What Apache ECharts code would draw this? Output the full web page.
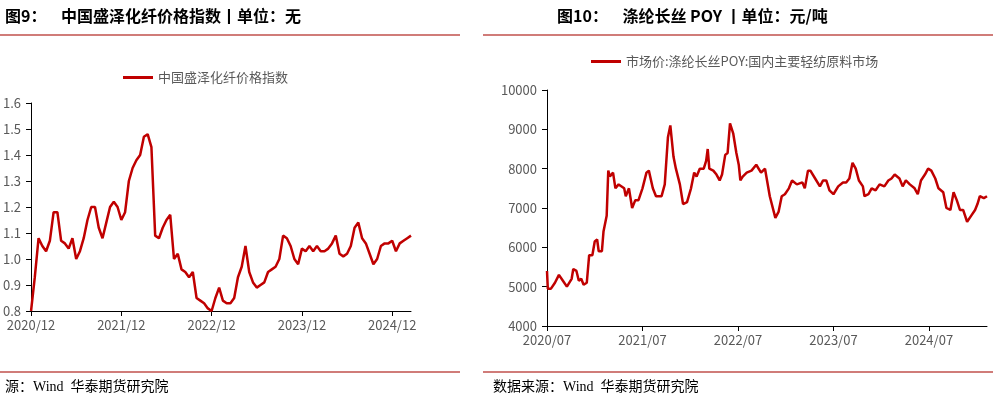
<!DOCTYPE html>
<html><head><meta charset="utf-8">
<script src="https://cdn.jsdelivr.net/npm/echarts@6/dist/echarts.min.js"></script>
<style>html,body{margin:0;padding:0;background:#fff}#c{width:998px;height:401px}</style>
</head><body><div id="c"></div>
<script>
// Left: 中国盛泽化纤价格指数, half-month steps from 2020/12
const leftStart = [2020, 12];
const leftValues = [0.80,0.93,1.08,1.05,1.03,1.07,1.18,1.18,1.07,1.06,1.04,1.08,1.00,1.03,1.08,1.15,1.20,1.20,1.12,1.08,1.14,1.20,1.22,1.20,1.15,1.18,1.30,1.35,1.38,1.40,1.47,1.48,1.43,1.09,1.08,1.12,1.15,1.17,1.00,1.02,0.96,0.95,0.93,0.95,0.85,0.84,0.83,0.81,0.80,0.85,0.89,0.84,0.83,0.83,0.85,0.93,0.97,1.05,0.95,0.91,0.89,0.90,0.91,0.95,0.96,0.97,1.00,1.09,1.08,1.05,1.00,0.98,1.04,1.03,1.05,1.03,1.05,1.03,1.03,1.04,1.06,1.09,1.02,1.01,1.02,1.05,1.12,1.14,1.08,1.06,1.02,0.98,1.00,1.05,1.06,1.06,1.07,1.03,1.06,1.07,1.08,1.09];
const leftTicks = [0.8,0.9,1.0,1.1,1.2,1.3,1.4,1.5,1.6];
// Right: 涤纶长丝POY, month offsets from 2020/07
const rightStart = [2020, 7];
const rightMonths = [0,0.1,0.5,1,1.5,2,2.5,2.75,3.1,3.3,3.7,4.0,4.3,4.6,5.0,5.3,5.7,6.0,6.3,6.5,6.9,7.1,7.5,7.7,7.9,8.3,8.6,9.0,9.7,9.9,10.3,10.7,11.1,11.5,12.0,12.5,12.8,13.3,13.7,14.4,14.8,15.2,15.5,15.9,16.2,16.7,17.1,17.6,18.1,18.5,18.8,19.2,19.7,20.0,20.2,20.4,20.9,21.3,21.7,22.0,22.4,22.7,23.0,23.4,23.8,24.1,24.3,24.6,25.1,25.7,26.3,26.9,27.4,28.0,28.7,29.1,29.5,29.9,30.4,30.8,31.4,32.1,32.4,32.8,33.1,33.7,34.3,34.7,35.1,35.5,36.0,36.6,37.2,37.6,38.0,38.4,38.8,39.2,39.7,39.9,40.4,40.8,41.3,41.8,42.4,42.9,43.3,43.7,44.3,44.7,45.1,45.6,46.2,46.6,47.0,47.5,47.9,48.3,48.8,49.2,49.8,50.2,50.7,51.1,51.5,51.9,52.3,52.8,53.3,53.8,54.1,54.4,54.9,55.3];
const rightValues = [5400,4950,4950,5100,5300,5150,5000,4950,5200,5450,5400,5150,5200,5050,5100,5800,5800,6150,6200,5900,5900,6400,6800,7950,7800,7900,7500,7600,7500,7300,7500,7000,7200,7200,7500,7900,7950,7500,7300,7300,7600,8800,9100,8300,8000,7600,7100,7150,7500,7900,7800,8000,8000,8200,8500,8000,7950,7850,7700,7850,8350,8400,9150,8900,8400,8100,7700,7800,7900,7950,8100,7900,8000,7300,6750,6900,7300,7350,7500,7700,7600,7650,7500,7950,7950,7750,7550,7700,7700,7450,7350,7550,7650,7650,7750,8150,8000,7700,7550,7300,7350,7500,7450,7600,7550,7700,7750,7850,7750,7550,7700,7600,7500,7350,7700,7850,8000,7950,7750,7500,7400,7000,6950,7400,7200,6950,6950,6650,6800,6950,7100,7300,7250,7300];

const leftData = leftValues.map((v,i)=>[i/2, v]);
const rightData = rightValues.map((v,i)=>[rightMonths[i], v]);
function fmt(start){return function(m){const t=start[0]*12+(start[1]-1)+Math.round(m);const y=Math.floor(t/12),mo=t%12+1;return y+'/'+(mo<10?'0':'')+mo;};}
const red='#C00000', gray='#595959';
const axBase={axisLine:{show:true,lineStyle:{color:'#000',width:1}},axisTick:{show:true,lineStyle:{color:'#000'}},splitLine:{show:false},axisLabel:{color:gray,fontSize:13,fontFamily:"'Noto Sans CJK SC',sans-serif"}};
const chart=echarts.init(document.getElementById('c'),null,{renderer:'canvas'});
chart.setOption({
 animation:false,
 graphic:[
  {type:'text',left:5,top:8,style:{text:'图9：    中国盛泽化纤价格指数丨单位：无',font:"bold 16px 'Noto Sans CJK SC'",fill:'#000'}},
  {type:'text',left:557,top:8,style:{text:'图10：    涤纶长丝 POY 丨单位：元/吨',font:"bold 16px 'Noto Sans CJK SC'",fill:'#000'}},
  {type:'line',shape:{x1:0,y1:35,x2:460,y2:35},style:{stroke:'#C0504D',lineWidth:1.5}},
  {type:'line',shape:{x1:483,y1:35,x2:993,y2:35},style:{stroke:'#C0504D',lineWidth:1.5}},
  {type:'line',shape:{x1:0,y1:372,x2:460,y2:372},style:{stroke:'#C0504D',lineWidth:1.5}},
  {type:'line',shape:{x1:483,y1:372,x2:993,y2:372},style:{stroke:'#C0504D',lineWidth:1.5}},
  {type:'text',left:5,top:380,style:{text:'源：Wind  华泰期货研究院',font:"14px 'Liberation Serif','Noto Sans CJK SC'",fill:'#000'}},
  {type:'text',left:493,top:380,style:{text:'数据来源：Wind  华泰期货研究院',font:"14px 'Liberation Serif','Noto Sans CJK SC'",fill:'#000'}}
 ],
 legend:[
  {left:118,top:66,itemWidth:30,itemHeight:3,icon:'rect',data:['中国盛泽化纤价格指数'],textStyle:{color:gray,fontSize:13,fontFamily:"'Noto Sans CJK SC'"}},
  {left:586,top:50,itemWidth:30,itemHeight:3,icon:'rect',data:['市场价:涤纶长丝POY:国内主要轻纺原料市场'],textStyle:{color:gray,fontSize:13,fontFamily:"'Noto Sans CJK SC'"}}
 ],
 grid:[{left:26,top:103,width:385,height:208},{left:547,top:90,width:440,height:236}],
 xAxis:[
  Object.assign({},axBase,{type:'value',gridIndex:0,min:0,max:50.5,interval:12,axisLabel:Object.assign({},axBase.axisLabel,{formatter:fmt(leftStart),showMaxLabel:false,margin:8})}),
  Object.assign({},axBase,{type:'value',gridIndex:1,min:0,max:55.3,interval:12,axisLabel:Object.assign({},axBase.axisLabel,{formatter:fmt(rightStart),showMaxLabel:false,margin:8})})
 ],
 yAxis:[
  Object.assign({},axBase,{type:'value',gridIndex:0,min:leftTicks[0],max:leftTicks[leftTicks.length-1],interval:0.1,axisLabel:Object.assign({},axBase.axisLabel,{formatter:v=>v.toFixed(1),margin:10})}),
  Object.assign({},axBase,{type:'value',gridIndex:1,min:4000,max:10000,interval:1000,axisLabel:Object.assign({},axBase.axisLabel,{formatter:v=>String(v),margin:10})})
 ],
 series:[
  {name:'中国盛泽化纤价格指数',type:'line',xAxisIndex:0,yAxisIndex:0,data:leftData,showSymbol:false,lineStyle:{color:red,width:2.5},itemStyle:{color:red}},
  {name:'市场价:涤纶长丝POY:国内主要轻纺原料市场',type:'line',xAxisIndex:1,yAxisIndex:1,data:rightData,showSymbol:false,lineStyle:{color:red,width:2.5},itemStyle:{color:red}}
 ]
});
</script></body></html>
